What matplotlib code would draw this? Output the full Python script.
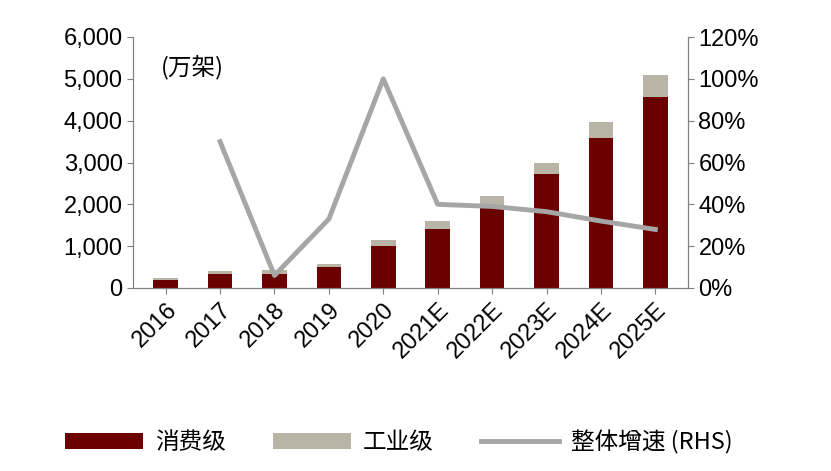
import matplotlib
matplotlib.use("Agg")
import matplotlib.pyplot as plt
from matplotlib import font_manager as fm
import numpy as np

years = ["2016","2017","2018","2019","2020","2021E","2022E","2023E","2024E","2025E"]
consumer = [200, 340, 340, 500, 1000, 1420, 1950, 2730, 3580, 4560]
industrial = [40, 70, 90, 70, 140, 170, 250, 270, 400, 540]
growth = [None, 70, 6, 33, 100, 40, 39, 36.5, 32, 28]

cjk = None
for f in fm.fontManager.ttflist:
    if "CJK" in f.name and ("SC" in f.name or cjk is None):
        cjk = f.name
        if "SC" in f.name:
            break
cjk = cjk or "DejaVu Sans"

plt.rcParams["font.family"] = ["Liberation Sans", cjk]
fig = plt.figure(figsize=(8.31, 4.71), dpi=100)
ax = fig.add_axes([133/831, 1-288/471, (688-133)/831, (288-37)/471])
x = np.arange(len(years))
ax.bar(x, consumer, width=0.45, color="#6B0000", label="消费级")
ax.bar(x, industrial, width=0.45, bottom=consumer, color="#B8B5A6", label="工业级")
ax.set_ylim(0, 6000)
ax.set_xlim(-0.6, len(years)-0.4)
ax.set_yticks(range(0, 6001, 1000))
ax.set_yticklabels([f"{v:,}" for v in range(0, 6001, 1000)], fontsize=17)
ax.set_xticks(x)
ax.set_xticklabels(years, rotation=45, ha="right", rotation_mode="anchor", fontsize=17)
ax2 = ax.twinx()
gx = [i for i, g in enumerate(growth) if g is not None]
gy = [g for g in growth if g is not None]
ax2.plot(gx, gy, color="#A6A6A6", lw=3.5, label="整体增速 (RHS)")
ax2.set_ylim(0, 120)
ax2.set_yticks(range(0, 121, 20))
ax2.set_yticklabels([f"{v}%" for v in range(0, 121, 20)], fontsize=17)
for a in (ax, ax2):
    a.spines["top"].set_visible(False)
    a.tick_params(length=4, color="#7f7f7f")
    for s in a.spines.values():
        s.set_color("#7f7f7f")
ax.text(0.05, 0.93, "(万架)", transform=ax.transAxes, fontsize=17, va="top",
        fontfamily=cjk)
h1, l1 = ax.get_legend_handles_labels()
h2, l2 = ax2.get_legend_handles_labels()
fig.legend(h1+h2, l1+l2, loc="lower center", ncol=3, frameon=False,
           bbox_to_anchor=(0.48, -0.01), handlelength=3.3, columnspacing=2.0,
           handletextpad=0.5, prop={"family": cjk, "size": 17})
fig.savefig("out.png", dpi=100)
